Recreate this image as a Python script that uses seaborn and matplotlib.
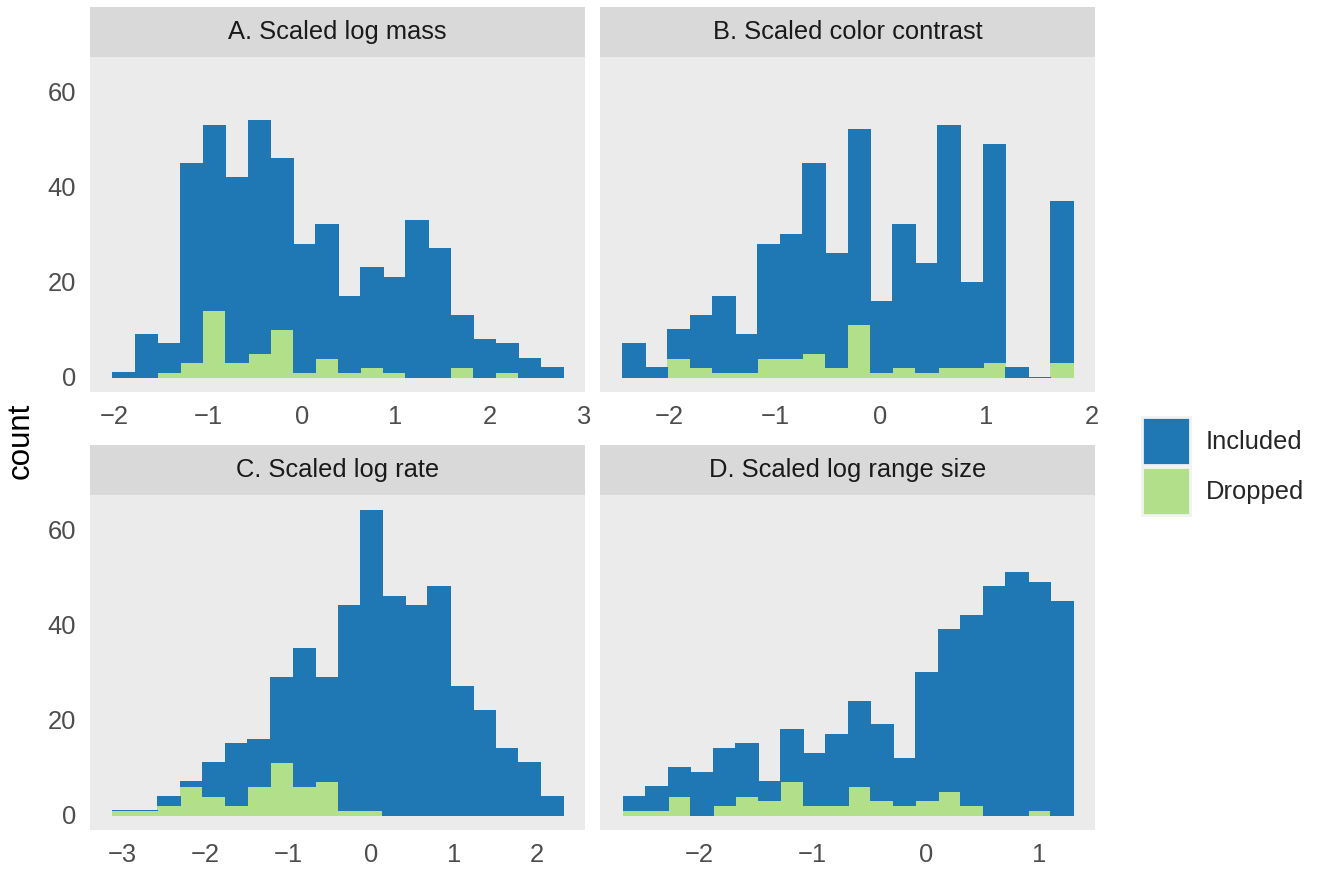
import numpy as np
import pandas as pd
import matplotlib
matplotlib.use("Agg")
import matplotlib.pyplot as plt
from matplotlib.patches import Patch
import seaborn as sns

# Facet titles
panels = ["A. Scaled log mass", "B. Scaled color contrast",
          "C. Scaled log rate", "D. Scaled log range size"]

# 20 bins per panel: left edge of first bin and bin width
bin_start = [-2.02, -2.445, -3.123, -2.681]
bin_width = [0.240, 0.2133, 0.2718, 0.199]

# counts per bin (stacked: Dropped at the bottom, Included on top)
included_a = [1, 9, 6, 42, 39, 39, 49, 36, 27, 28, 16, 21, 20, 33, 27, 11, 8, 6, 4, 2]
dropped_a = [0, 0, 1, 3, 14, 3, 5, 10, 1, 4, 1, 2, 1, 0, 0, 2, 0, 1, 0, 0]

included_b = [7, 2, 6, 11, 16, 8, 24, 26, 40, 24, 41, 15, 30, 23, 51, 18, 46, 2, 0, 34]
dropped_b = [0, 0, 4, 2, 1, 1, 4, 4, 5, 2, 11, 1, 2, 1, 2, 2, 3, 0, 0, 3]

included_c = [0, 0, 2, 1, 7, 13, 10, 18, 29, 22, 43, 63, 46, 44, 48, 27, 22, 14, 11, 4]
dropped_c = [1, 1, 2, 6, 4, 2, 6, 11, 6, 7, 1, 1, 0, 0, 0, 0, 0, 0, 0, 0]

included_d = [3, 5, 6, 9, 12, 11, 4, 11, 11, 15, 18, 16, 10, 27, 34, 40, 48, 51, 48, 45]
dropped_d = [1, 1, 4, 0, 2, 4, 3, 7, 2, 2, 6, 3, 2, 3, 5, 2, 0, 0, 1, 0]

included = [included_a, included_b, included_c, included_d]
dropped = [dropped_a, dropped_b, dropped_c, dropped_d]

status_order = ["Included", "Dropped"]
colors = {"Included": "#1F78B4", "Dropped": "#B2DF8A"}

x_ticks = [[-2, -1, 0, 1, 2, 3], [-2, -1, 0, 1, 2],
           [-3, -2, -1, 0, 1, 2], [-2, -1, 0, 1]]
y_ticks = [0, 20, 40, 60]

sns.set_theme(style="white")
plt.rcParams["font.family"] = ["Liberation Sans", "DejaVu Sans"]

W, H = 1320, 871
fig = plt.figure(figsize=(W / 100, H / 100), dpi=100)


def px_rect(x0, x1, y0, y1):
    return [x0 / W, 1 - y1 / H, (x1 - x0) / W, (y1 - y0) / H]


boxes = [(90, 585, 57, 392), (600, 1095, 57, 392),
         (90, 585, 495, 830), (600, 1095, 495, 830)]

for i, (x0, x1, y0, y1) in enumerate(boxes):
    ax = fig.add_axes(px_rect(x0, x1, y0, y1))
    edges = [bin_start[i] + bin_width[i] * k for k in range(21)]
    centers = [(edges[k] + edges[k + 1]) / 2 for k in range(20)]
    df = pd.DataFrame({
        "x": centers + centers,
        "n": included[i] + dropped[i],
        "status": ["Included"] * 20 + ["Dropped"] * 20,
    })
    sns.histplot(data=df, x="x", weights="n", hue="status",
                 hue_order=status_order, palette=colors, bins=edges,
                 multiple="stack", alpha=1, linewidth=0, legend=False, ax=ax)
    # outline each bar in its own colour: closes seams, shows empty bins as a hairline
    for p in ax.patches:
        p.set_edgecolor(p.get_facecolor())
        p.set_linewidth(0.6)
        p.set_antialiased(False)
    ax.set_facecolor("#EBEBEB")
    for s in ax.spines.values():
        s.set_visible(False)
    ax.set_ylim(-3.2, 67.2)
    span = edges[-1] - edges[0]
    ax.set_xlim(edges[0] - 0.05 * span, edges[-1] + 0.05 * span)
    ax.set_xticks(x_ticks[i])
    ax.set_xticklabels([str(t).replace("-", "\u2212") for t in x_ticks[i]])
    ax.set_yticks(y_ticks)
    if i % 2 == 0:
        ax.set_yticklabels([str(t) for t in y_ticks])
    else:
        ax.set_yticklabels([])
    ax.tick_params(length=0, labelsize=18.4, labelcolor="#4D4D4D")
    ax.tick_params(axis="x", pad=9)
    ax.tick_params(axis="y", pad=10)
    ax.set_xlabel("")
    ax.set_ylabel("")

    # facet strip
    strip = fig.add_axes(px_rect(x0, x1, y0 - 50, y0))
    strip.set_facecolor("#D9D9D9")
    strip.set_xticks([])
    strip.set_yticks([])
    for s in strip.spines.values():
        s.set_visible(False)
    strip.text(0.5, 0.5, panels[i], ha="center", va="center",
               fontsize=18.4, color="#1A1A1A", transform=strip.transAxes)

fig.text(21 / W, 1 - 441 / H, "count", rotation=90, ha="center", va="center",
         fontsize=22.5, color="black")

handles = [Patch(facecolor=colors[s], edgecolor="#F2F2F2", linewidth=2, label=s)
           for s in status_order]
fig.legend(handles=handles, loc="center left", bbox_to_anchor=(1132 / W, 1 - 466 / H),
           frameon=False, fontsize=18.4, handlelength=1.85, handleheight=2.5,
           labelspacing=0.08, handletextpad=0.65, borderaxespad=0)

fig.savefig("out.png", dpi=100)
